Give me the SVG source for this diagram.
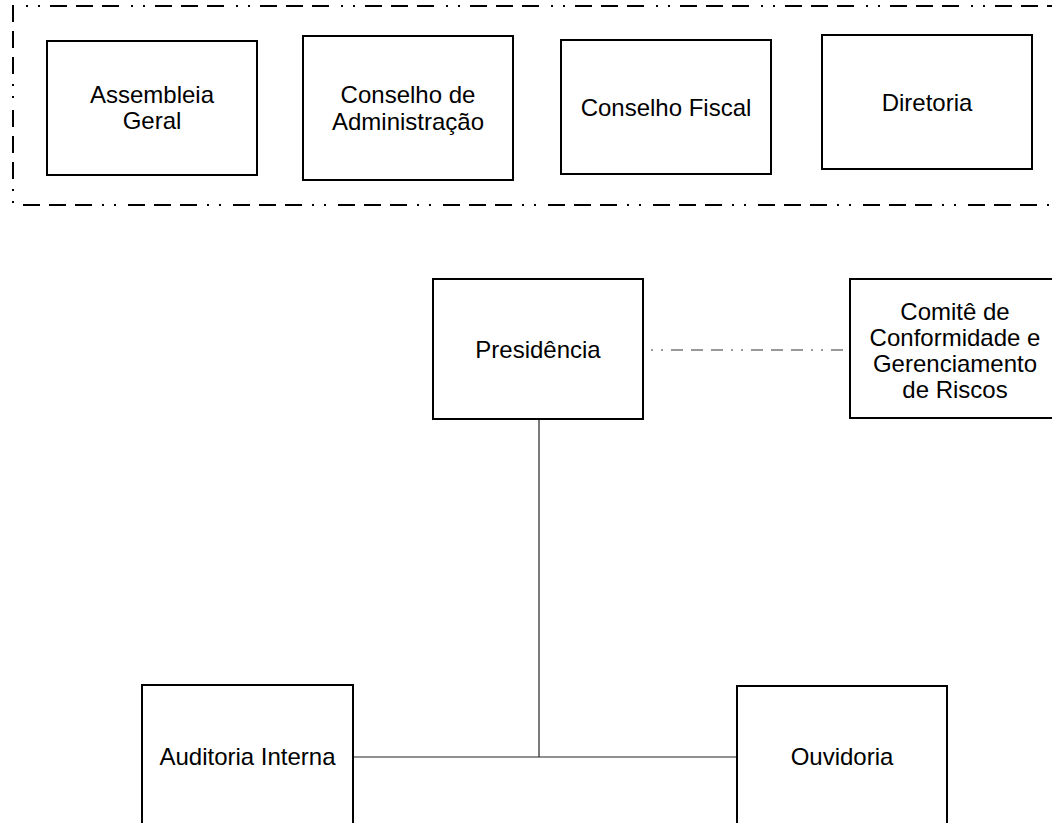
<svg xmlns="http://www.w3.org/2000/svg" width="1052" height="823" viewBox="0 0 1052 823">
<style>
  .box { fill: #ffffff; stroke: #000000; stroke-width: 2; }
  .lbl { font-family: "Liberation Sans", Arial, sans-serif; font-size: 24px; fill: #000000; text-anchor: middle; }
  .frame { fill: none; stroke: #000000; stroke-width: 2; stroke-dasharray: 17 9 17 9 17 10 2 10 2 12; }
  .conn { fill: none; stroke: #222222; stroke-width: 1.2; }
  .dashconn { fill: none; stroke: #333333; stroke-width: 1.2; stroke-dasharray: 12 8 12 8 12 8 2 8 2 8; stroke-dashoffset: 52; }
</style>
<rect width="1052" height="823" fill="#ffffff"/>
<g id="governance-frame">
  <path class="frame" d="M 1070 6 H 13 V 205 H 1070" stroke-dashoffset="-6"/>
</g>
<g id="connectors">
  <path class="conn" d="M 539 419 V 757"/>
  <path class="conn" d="M 353 757 H 737"/>
  <path class="dashconn" d="M 643 350 H 850"/>
</g>
<g id="assembleia-geral">
  <rect class="box" x="47" y="41" width="210" height="134"/>
  <text class="lbl" x="152" y="103">Assembleia</text>
  <text class="lbl" x="152" y="129">Geral</text>
</g>
<g id="conselho-administracao">
  <rect class="box" x="303" y="36" width="210" height="144"/>
  <text class="lbl" x="408" y="103">Conselho de</text>
  <text class="lbl" x="408" y="130">Administração</text>
</g>
<g id="conselho-fiscal">
  <rect class="box" x="561" y="40" width="210" height="134"/>
  <text class="lbl" x="666" y="116">Conselho Fiscal</text>
</g>
<g id="diretoria">
  <rect class="box" x="822" y="35" width="210" height="134"/>
  <text class="lbl" x="927" y="111">Diretoria</text>
</g>
<g id="presidencia">
  <rect class="box" x="433" y="279" width="210" height="140"/>
  <text class="lbl" x="538" y="358">Presidência</text>
</g>
<g id="comite">
  <rect class="box" x="850" y="279" width="211" height="139"/>
  <text class="lbl" x="955" y="320">Comitê de</text>
  <text class="lbl" x="955" y="346">Conformidade e</text>
  <text class="lbl" x="955" y="372">Gerenciamento</text>
  <text class="lbl" x="955" y="398">de Riscos</text>
</g>
<g id="auditoria-interna">
  <rect class="box" x="142" y="685" width="211" height="160"/>
  <text class="lbl" x="247.5" y="765">Auditoria Interna</text>
</g>
<g id="ouvidoria">
  <rect class="box" x="737" y="686" width="210" height="160"/>
  <text class="lbl" x="842" y="765">Ouvidoria</text>
</g>
</svg>
